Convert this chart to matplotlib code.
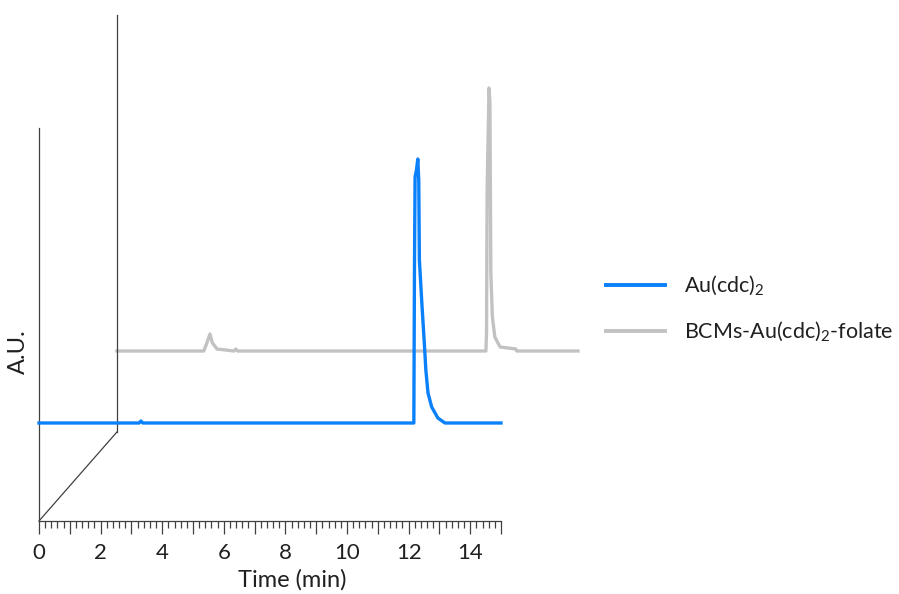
import numpy as np
import matplotlib.pyplot as plt
from matplotlib.ticker import MultipleLocator, FuncFormatter
from matplotlib.lines import Line2D

plt.rcParams['font.family'] = ['Lato', 'DejaVu Sans']
plt.rcParams['mathtext.fontset'] = 'custom'
plt.rcParams['mathtext.rm'] = 'Lato'

## Chromatogram traces (time in min, signal in A.U.)
t_au = [0.0, 3.25, 3.31, 3.37, 12.17, 12.19, 12.21, 12.25, 12.30, 12.33, 12.35,
        12.43, 12.51, 12.56, 12.63, 12.75, 12.95, 13.18, 15.0]
s_au = [98, 98, 100, 98, 98, 250, 344, 350, 362, 340, 261,
        218, 178, 151, 128, 114, 103, 98, 98]

t_folate = [0.0, 2.82, 2.92, 3.02, 3.10, 3.25, 3.80, 3.86, 3.92, 11.98, 12.00,
            12.02, 12.08, 12.11, 12.14, 12.19, 12.27, 12.44, 12.95, 12.98, 14.97]
s_folate = [81, 81, 89, 98, 89, 83, 81, 83, 81, 81, 99,
            242, 344, 330, 159, 115, 95, 85, 83, 81, 81]

## Offset of the back trace (pseudo-3D depth)
dx, dy = 2.53, 89

labels = ['Au(cdc)$_2$', 'BCMs-Au(cdc)$_2$-folate']
colors = ['#0A80FA', '#C2C2C2']
axis_col = '#404040'
text_col = '#202020'

fig = plt.figure(figsize=(8.99, 5.94), dpi=100)
ax = fig.add_axes([39/899, 73/594, 462/899, 506/594])
ax.set_xlim(0, 15)
ax.set_ylim(0, 506)

# front and back traces
ax.plot(t_au, s_au, color=colors[0], lw=2.4, clip_on=False, zorder=3)
ax.plot(np.array(t_folate) + dx, np.array(s_folate) + dy, color=colors[1],
        lw=2.4, clip_on=False, zorder=2)

# depth axes
ax.plot([0, 0], [0, 393], color=axis_col, lw=0.9, clip_on=False)
ax.plot([0, dx], [0, dy], color=axis_col, lw=0.9, clip_on=False)
ax.plot([dx, dx], [dy, 506], color=axis_col, lw=0.9, clip_on=False)

for s in ['top', 'right', 'left']:
    ax.spines[s].set_visible(False)
ax.spines['bottom'].set_color(axis_col)
ax.spines['bottom'].set_linewidth(0.9)

ax.set_yticks([])
ax.xaxis.set_major_locator(MultipleLocator(1))
ax.xaxis.set_minor_locator(MultipleLocator(0.2))
ax.xaxis.set_major_formatter(FuncFormatter(lambda v, p: f'{v:.0f}' if round(v) % 2 == 0 else ''))
ax.tick_params(axis='x', which='major', length=9, width=0.9, color=axis_col,
               labelsize=16, pad=7, labelcolor=text_col)
ax.tick_params(axis='x', which='minor', length=5, width=0.9, color=axis_col)

ax.set_xlabel('Time (min)', fontsize=17, color=text_col, labelpad=0)
ax.xaxis.set_label_coords((292 - 39) / 462, -0.095)
fig.text(18/899, 1 - 352/594, 'A.U.', rotation=90, fontsize=17, color=text_col,
         ha='center', va='center')

handles = [Line2D([], [], color=c, lw=2.8) for c in colors]
fig.legend(handles, labels, loc='center left', bbox_to_anchor=(606/899, 1 - 309/594),
           frameon=False, fontsize=15.5, handlelength=2.75, handletextpad=0.85,
           labelspacing=1.0, borderpad=0, borderaxespad=0, labelcolor=text_col)

fig.savefig('out.png', dpi=100)
